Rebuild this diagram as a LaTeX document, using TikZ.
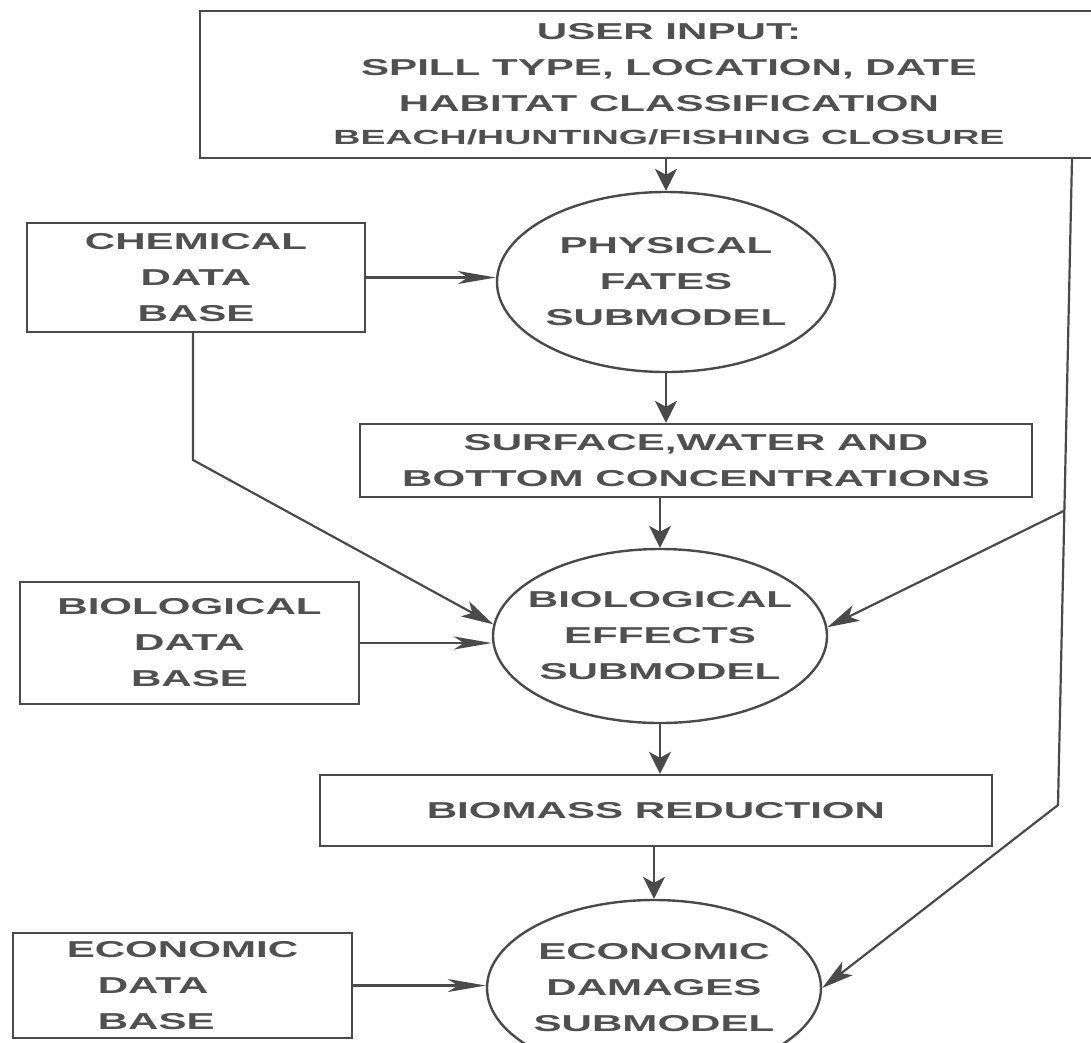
\documentclass[tikz,border=0pt]{standalone}
\usepackage{fontspec}
\newfontfamily\lab{Liberation Sans}[FakeStretch=1.83]
\usetikzlibrary{shapes.geometric,arrows.meta,calc}
\definecolor{ink}{HTML}{4A4A4A}
\definecolor{txt}{HTML}{505050}
\newcommand\zc[1]{\makebox[0pt][c]{#1}}
\begin{document}
\begin{tikzpicture}[x=1pt,y=-1pt,
  every node/.style={font=\lab\bfseries\fontsize{23}{36}\selectfont, text=txt},
  boxnode/.style={draw=ink, line width=2.4pt, rectangle, inner sep=0pt, align=center},
  ellnode/.style={draw=ink, line width=2.4pt, ellipse, inner sep=0pt, align=center},
  conn/.style={draw=ink, line width=2.2pt},
  varr/.style={conn, -{Stealth[length=22pt,width=22pt,inset=6pt]}},
  harr/.style={conn, -{Stealth[length=38pt,width=13pt,inset=10pt]}},
  darr/.style={conn, -{Stealth[length=32pt,width=17pt,inset=8pt]}},
]
\useasboundingbox (0,0) rectangle (1091,1042);
\clip (0,0) rectangle (1091,1042);
\fill[white] (0,0) rectangle (1091,1042);

\node[boxnode, minimum width=938pt, minimum height=147pt] (top) at (669,84.5)
  {USER INPUT:\\SPILL TYPE, LOCATION, DATE\\HABITAT CLASSIFICATION\\[-3pt]{\fontsize{20.5}{32}\selectfont BEACH/HUNTING/FISHING CLOSURE}};
\node[boxnode, minimum width=338pt, minimum height=109pt] (chem) at (196,277.5) {CHEMICAL\\DATA\\BASE};
\node[ellnode, minimum width=338pt, minimum height=180pt] (phys) at (666,282) {\zc{PHYSICAL}\\\zc{FATES}\\\zc{SUBMODEL}};
\node[boxnode, minimum width=672pt, minimum height=73pt] (surf) at (696,460.5) {SURFACE,WATER AND\\BOTTOM CONCENTRATIONS};
\node[boxnode, minimum width=339pt, minimum height=122pt] (biobox) at (189.5,643) {BIOLOGICAL\\DATA\\BASE};
\node[ellnode, minimum width=334pt, minimum height=174pt] (bio) at (660,636) {\zc{BIOLOGICAL}\\\zc{EFFECTS}\\\zc{SUBMODEL}};
\node[boxnode, minimum width=672pt, minimum height=71pt] (biomass) at (656,810.5) {BIOMASS REDUCTION};
\node[boxnode, minimum width=339pt, minimum height=105pt, align=left] (econbox) at (182.5,985.5) {ECONOMIC\\\hspace*{31pt}DATA\\\hspace*{31pt}BASE};
\node[ellnode, minimum width=334pt, minimum height=176pt] (econ) at (654,988) {\zc{ECONOMIC}\\\zc{DAMAGES}\\\zc{SUBMODEL}};

\coordinate (rtop) at (1072,158);
\coordinate (rbot) at (1058,805);
\coordinate (rmid) at ($(rtop)!0.545!(rbot)$);
\coordinate (cbend) at (193,460);

\draw[varr] (top.south -| phys.north) -- (phys.north);
\draw[harr] (chem.east) -- (chem.east -| phys.west);
\draw[varr] (phys.south) -- (phys.south |- surf.north);
\draw[varr] (surf.south -| bio.north) -- (bio.north);
\draw[darr] (chem.south -| cbend) -- (cbend) -- (bio.176);
\draw[harr] (biobox.east) -- (biobox.east -| bio.west);
\draw[varr] (bio.south) -- (bio.south |- biomass.north);
\draw[varr] (biomass.south -| econ.north) -- (econ.north);
\draw[harr] (econbox.east) -- (econbox.east -| econ.west);
\draw[darr] (rtop) -- (rbot) -- (econ.east);
\draw[darr] (rmid) -- (bio.3);
\end{tikzpicture}
\end{document}
